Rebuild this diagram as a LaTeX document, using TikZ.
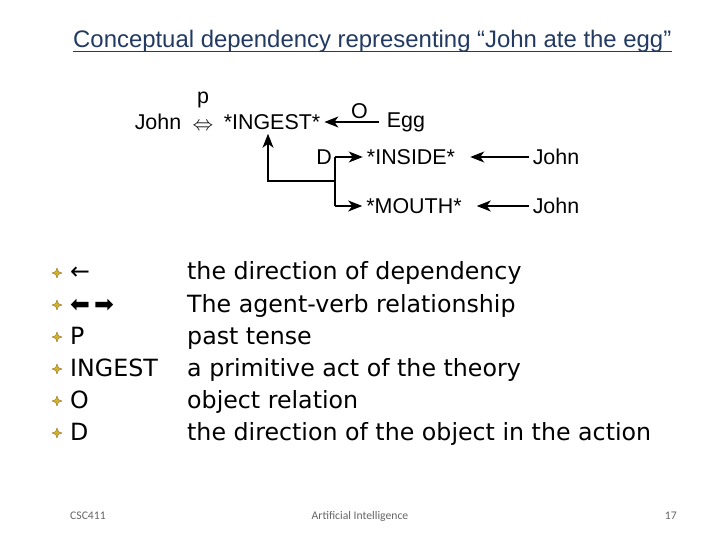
\documentclass[tikz,border=0pt]{standalone}
\usepackage{fontspec}
\setmainfont{Liberation Sans}
\newfontfamily\listfont{DejaVu Sans}
\newfontfamily\footfont{Carlito}
\usetikzlibrary{arrows.meta,positioning,shapes.geometric}
\definecolor{titleblue}{RGB}{34,58,98}
\definecolor{bulletgold}{RGB}{214,176,40}

\begin{document}
\begin{tikzpicture}[x=1bp, y=-1bp,
  concept/.style={inner sep=4bp, font=\fontsize{21.5}{21.5}\selectfont},
  dep/.style={-{Stealth[length=14bp, width=11bp, inset=4bp]}, line width=1.2bp},
  item/.style={anchor=base west, inner sep=0pt, font=\listfont\fontsize{23.8}{23.8}\selectfont},
  bulletmark/.style={star, star points=4, star point ratio=2.6, fill=bulletgold, draw=bulletgold!60!black, line width=0.3bp, minimum size=10bp, inner sep=0pt},
  foot/.style={inner sep=0pt, anchor=base, text=black!60, font=\footfont\fontsize{11.7}{11.7}\selectfont}
]
  \useasboundingbox[fill=white] (0,0) rectangle (720,540);

  % title
  \node[anchor=base west, inner sep=0pt, text=titleblue, font=\fontsize{24}{24}\selectfont] (title) at (73,48)
    {Conceptual dependency representing “John ate the egg”};
  \draw[titleblue, line width=1.4bp] ([yshift=-3.5bp]title.base west) -- ([yshift=-3.5bp]title.base east);

  % the CD graph
  \node[concept] (john) at (158,122) {John};
  \node[concept, inner sep=0pt, font=\fontsize{20}{20}\selectfont] (agent) at (203,127) {$\Leftrightarrow$};
  \node[concept, inner sep=0pt, anchor=base] (tense) at (203,104) {p};
  \node[concept] (ingest) at (272,122) {*INGEST*};
  \node[concept] (egg) at (406,122) {Egg};
  \node[concept] (inside) at (411,157) {*INSIDE*};
  \node[concept] (mouth) at (414,206) {*MOUTH*};
  \node[concept] (john2) at (556,157) {John};
  \node[concept] (john3) at (556,206) {John};
  \node[concept, inner sep=0pt] (dlabel) at (324,157) {D};
  \coordinate (fork) at (335,181);

  \draw[dep, shorten <=4bp] (egg) -- node[concept, above, pos=0.4, inner sep=3bp] {O} (ingest);
  \draw[dep] (fork) -| ([xshift=-4bp]ingest.south);
  \draw[line width=1.2bp] (fork |- inside) -- (fork |- mouth);
  \draw[dep] (fork |- inside) -- (inside);
  \draw[dep] (fork |- mouth) -- (mouth);
  \draw[dep, shorten >=11bp] (john2) -- (inside);
  \draw[dep, shorten >=11bp] (john3) -- (mouth);

  % legend
  \foreach \sym/\desc [count=\r] in {←/the direction of dependency,
      ⬅\,➡/The agent-verb relationship,
      P/past tense,
      INGEST/a primitive act of the theory,
      O/object relation,
      D/the direction of the object in the action} {
    \node[bulletmark] (mark\r) at (57,273+32*\r-32) {};
    \node[item] (sym\r) at (70,280+32*\r-32) {\sym};
    \node[item] (desc\r) at (187,280+32*\r-32) {\desc};
  }

  % footer
  \node[foot, anchor=base west] (course) at (70,519) {CSC411};
  \node[foot] (subject) at (360,519) {Artificial Intelligence};
  \node[foot, anchor=base east] (page) at (677,519) {17};
\end{tikzpicture}
\end{document}
